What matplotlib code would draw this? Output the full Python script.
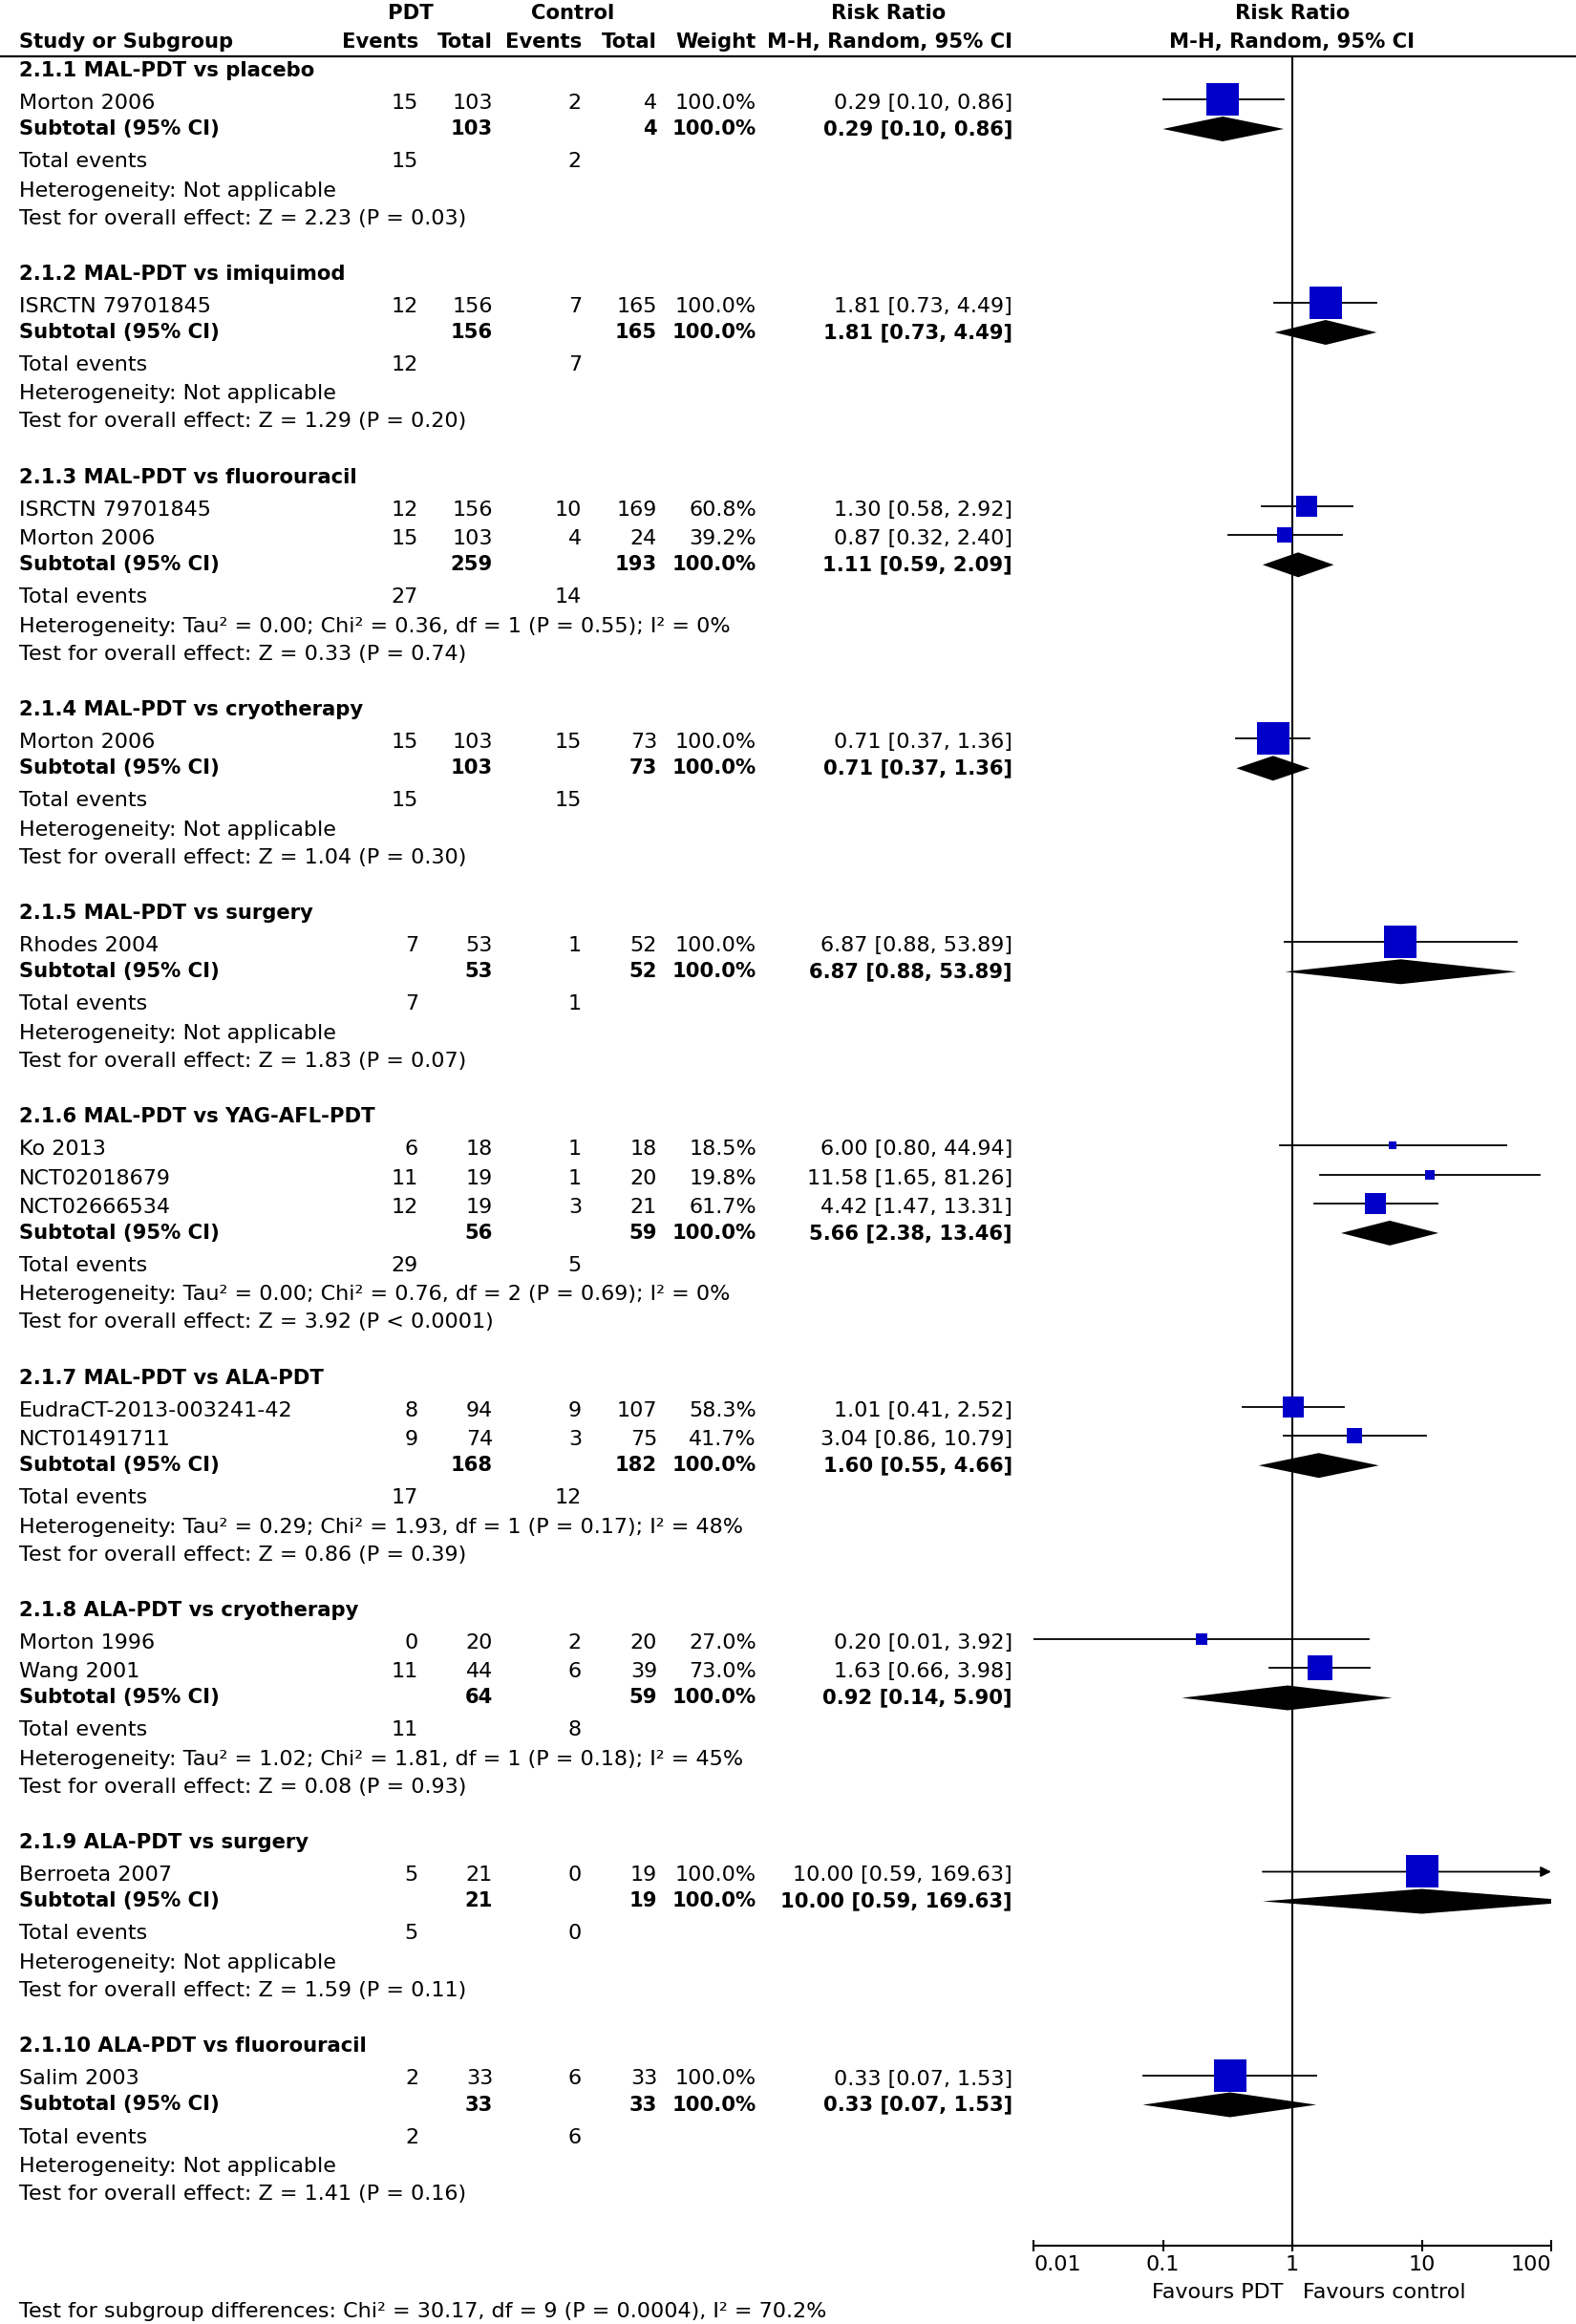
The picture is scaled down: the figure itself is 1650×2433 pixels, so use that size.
import matplotlib
matplotlib.use('Agg')
import matplotlib.pyplot as plt
from matplotlib.patches import Polygon
from matplotlib.ticker import NullLocator

# ---- data ----
sub_names = ['2.1.1 MAL-PDT vs placebo', '2.1.2 MAL-PDT vs imiquimod',
             '2.1.3 MAL-PDT vs fluorouracil', '2.1.4 MAL-PDT vs cryotherapy',
             '2.1.5 MAL-PDT vs surgery', '2.1.6 MAL-PDT vs YAG-AFL-PDT',
             '2.1.7 MAL-PDT vs ALA-PDT', '2.1.8 ALA-PDT vs cryotherapy',
             '2.1.9 ALA-PDT vs surgery', '2.1.10 ALA-PDT vs fluorouracil']

study_group = [0, 1, 2, 2, 3, 4, 5, 5, 5, 6, 6, 7, 7, 8, 9]
study_names = ['Morton 2006', 'ISRCTN 79701845', 'ISRCTN 79701845', 'Morton 2006',
               'Morton 2006', 'Rhodes 2004', 'Ko 2013', 'NCT02018679', 'NCT02666534',
               'EudraCT-2013-003241-42', 'NCT01491711', 'Morton 1996', 'Wang 2001',
               'Berroeta 2007', 'Salim 2003']
pdt_events = [15, 12, 12, 15, 15, 7, 6, 11, 12, 8, 9, 0, 11, 5, 2]
pdt_total = [103, 156, 156, 103, 103, 53, 18, 19, 19, 94, 74, 20, 44, 21, 33]
ctl_events = [2, 7, 10, 4, 15, 1, 1, 1, 3, 9, 3, 2, 6, 0, 6]
ctl_total = [4, 165, 169, 24, 73, 52, 18, 20, 21, 107, 75, 20, 39, 19, 33]
weights = [100.0, 100.0, 60.8, 39.2, 100.0, 100.0, 18.5, 19.8, 61.7, 58.3, 41.7,
           27.0, 73.0, 100.0, 100.0]
rr = [0.29, 1.81, 1.30, 0.87, 0.71, 6.87, 6.00, 11.58, 4.42, 1.01, 3.04, 0.20, 1.63,
      10.00, 0.33]
rr_lo = [0.10, 0.73, 0.58, 0.32, 0.37, 0.88, 0.80, 1.65, 1.47, 0.41, 0.86, 0.01, 0.66,
         0.59, 0.07]
rr_hi = [0.86, 4.49, 2.92, 2.40, 1.36, 53.89, 44.94, 81.26, 13.31, 2.52, 10.79, 3.92,
         3.98, 169.63, 1.53]

sub_pdt_total = [103, 156, 259, 103, 53, 56, 168, 64, 21, 33]
sub_ctl_total = [4, 165, 193, 73, 52, 59, 182, 59, 19, 33]
sub_pdt_events = [15, 12, 27, 15, 7, 29, 17, 11, 5, 2]
sub_ctl_events = [2, 7, 14, 15, 1, 5, 12, 8, 0, 6]
sub_rr = [0.29, 1.81, 1.11, 0.71, 6.87, 5.66, 1.60, 0.92, 10.00, 0.33]
sub_lo = [0.10, 0.73, 0.59, 0.37, 0.88, 2.38, 0.55, 0.14, 0.59, 0.07]
sub_hi = [0.86, 4.49, 2.09, 1.36, 53.89, 13.46, 4.66, 5.90, 169.63, 1.53]
sub_het = ['Not applicable', 'Not applicable',
           'Tau² = 0.00; Chi² = 0.36, df = 1 (P = 0.55); I² = 0%',
           'Not applicable', 'Not applicable',
           'Tau² = 0.00; Chi² = 0.76, df = 2 (P = 0.69); I² = 0%',
           'Tau² = 0.29; Chi² = 1.93, df = 1 (P = 0.17); I² = 48%',
           'Tau² = 1.02; Chi² = 1.81, df = 1 (P = 0.18); I² = 45%',
           'Not applicable', 'Not applicable']
sub_z = ['2.23', '1.29', '0.33', '1.04', '1.83', '3.92', '0.86', '0.08', '1.59', '1.41']
sub_p = ['= 0.03', '= 0.20', '= 0.74', '= 0.30', '= 0.07', '< 0.0001', '= 0.39',
         '= 0.93', '= 0.11', '= 0.16']

tick_vals = [0.01, 0.1, 1, 10, 100]
tick_labels = ['0.01', '0.1', '1', '10', '100']
subgroup_test = 'Test for subgroup differences: Chi² = 30.17, df = 9 (P = 0.0004), I² = 70.2%'

# ---- layout ----
W, H = 1650, 2433
X0, X1 = 1082, 1624      # pixel x of 0.01 and 100
Y_TOP, Y_BOT = 59, 2351  # header rule and x axis
BLUE = '#0000c8'
FS = 16      # regular text
FS_B = 15.2  # bold text

# column right edges
C_EV1, C_TOT1, C_EV2, C_TOT2, C_W, C_RR = 438, 516, 609, 688, 792, 1060
C_NAME = 20

plt.rcParams['font.family'] = ['DejaVu Sans']
plt.rcParams['font.size'] = FS

fig = plt.figure(figsize=(W / 100, H / 100), dpi=100)
bg = fig.add_axes([0, 0, 1, 1])
bg.set_xlim(0, W)
bg.set_ylim(H, 0)
bg.axis('off')

fa = fig.add_axes([X0 / W, 1 - Y_BOT / H, (X1 - X0) / W, (Y_BOT - Y_TOP) / H])
fa.set_xscale('log')
fa.set_xlim(0.01, 100)
fa.set_ylim(Y_BOT, Y_TOP)
fa.patch.set_alpha(0)
for s in ['top', 'left', 'right']:
    fa.spines[s].set_visible(False)
fa.spines['bottom'].set_linewidth(1.5)
fa.set_yticks([])
fa.set_xticks(tick_vals)
fa.set_xticklabels(tick_labels)
fa.xaxis.set_minor_locator(NullLocator())
fa.tick_params(axis='x', direction='inout', length=9, width=1.5, labelsize=FS, pad=3)
lbls = fa.get_xticklabels()
lbls[0].set_horizontalalignment('left')
lbls[-1].set_horizontalalignment('right')
fa.axvline(1, color='k', lw=1.5, zorder=1)


def txt(x, y, s, ha='right', bold=False):
    bg.text(x, y, s, ha=ha, va='center', fontsize=FS_B if bold else FS,
            fontweight='bold' if bold else 'normal')


# header
for x, s, ha in [(430, 'PDT', 'center'), (600, 'Control', 'center'),
                 (930, 'Risk Ratio', 'center'), (1353, 'Risk Ratio', 'center')]:
    txt(x, 14, s, ha=ha, bold=True)
for x, s, ha in [(C_NAME, 'Study or Subgroup', 'left'), (C_EV1, 'Events', 'right'),
                 (C_TOT1, 'Total', 'right'), (C_EV2, 'Events', 'right'),
                 (C_TOT2, 'Total', 'right'), (C_W, 'Weight', 'right'),
                 (C_RR, 'M-H, Random, 95% CI', 'right'),
                 (1353, 'M-H, Random, 95% CI', 'center')]:
    txt(x, 44, s, ha=ha, bold=True)
bg.plot([0, W], [Y_TOP, Y_TOP], color='k', lw=1.6)


def ci_text(e, lo, hi):
    return '%.2f [%.2f, %.2f]' % (e, lo, hi)


y = 74
for g, name in enumerate(sub_names):
    txt(C_NAME, y, name, ha='left', bold=True)
    y += 34
    idx = [i for i in range(len(study_names)) if study_group[i] == g]
    for k, i in enumerate(idx):
        if k > 0:
            y += 30.3
        txt(C_NAME, y, study_names[i], ha='left')
        txt(C_EV1, y, str(pdt_events[i]))
        txt(C_TOT1, y, str(pdt_total[i]))
        txt(C_EV2, y, str(ctl_events[i]))
        txt(C_TOT2, y, str(ctl_total[i]))
        txt(C_W, y, '%.1f%%' % weights[i])
        txt(C_RR, y, ci_text(rr[i], rr_lo[i], rr_hi[i]))
        ym = y - 4
        if rr_hi[i] > 100:
            fa.annotate('', xy=(100, ym), xytext=(rr_lo[i], ym),
                        arrowprops=dict(arrowstyle='-|>', color='k', lw=1.3,
                                        shrinkA=0, shrinkB=0, mutation_scale=16))
        else:
            fa.plot([rr_lo[i], rr_hi[i]], [ym, ym], color='k', lw=1.3, zorder=2)
        side = 3.3 + 0.307 * weights[i]
        fa.scatter([rr[i]], [ym], s=(side * 0.72) ** 2, marker='s', color=BLUE,
                   linewidths=0, zorder=4)
    y += 27
    txt(C_NAME, y, 'Subtotal (95% CI)', ha='left', bold=True)
    txt(C_TOT1, y, str(sub_pdt_total[g]), bold=True)
    txt(C_TOT2, y, str(sub_ctl_total[g]), bold=True)
    txt(C_W, y, '100.0%', bold=True)
    txt(C_RR, y, ci_text(sub_rr[g], sub_lo[g], sub_hi[g]), bold=True)
    fa.add_patch(Polygon([[sub_lo[g], y], [sub_rr[g], y - 13], [sub_hi[g], y],
                          [sub_rr[g], y + 13]], closed=True, fc='k', ec='none',
                         zorder=3))
    y += 34
    txt(C_NAME, y, 'Total events', ha='left')
    txt(C_EV1, y, str(sub_pdt_events[g]))
    txt(C_EV2, y, str(sub_ctl_events[g]))
    y += 30.5
    txt(C_NAME, y, 'Heterogeneity: ' + sub_het[g], ha='left')
    y += 29
    txt(C_NAME, y, 'Test for overall effect: Z = %s (P %s)' % (sub_z[g], sub_p[g]),
        ha='left')
    y += 58.5

txt(1343, 2400, 'Favours PDT', ha='right')
txt(1364, 2400, 'Favours control', ha='left')
txt(C_NAME, 2420, subgroup_test, ha='left')

fig.savefig('out.png', dpi=100)
